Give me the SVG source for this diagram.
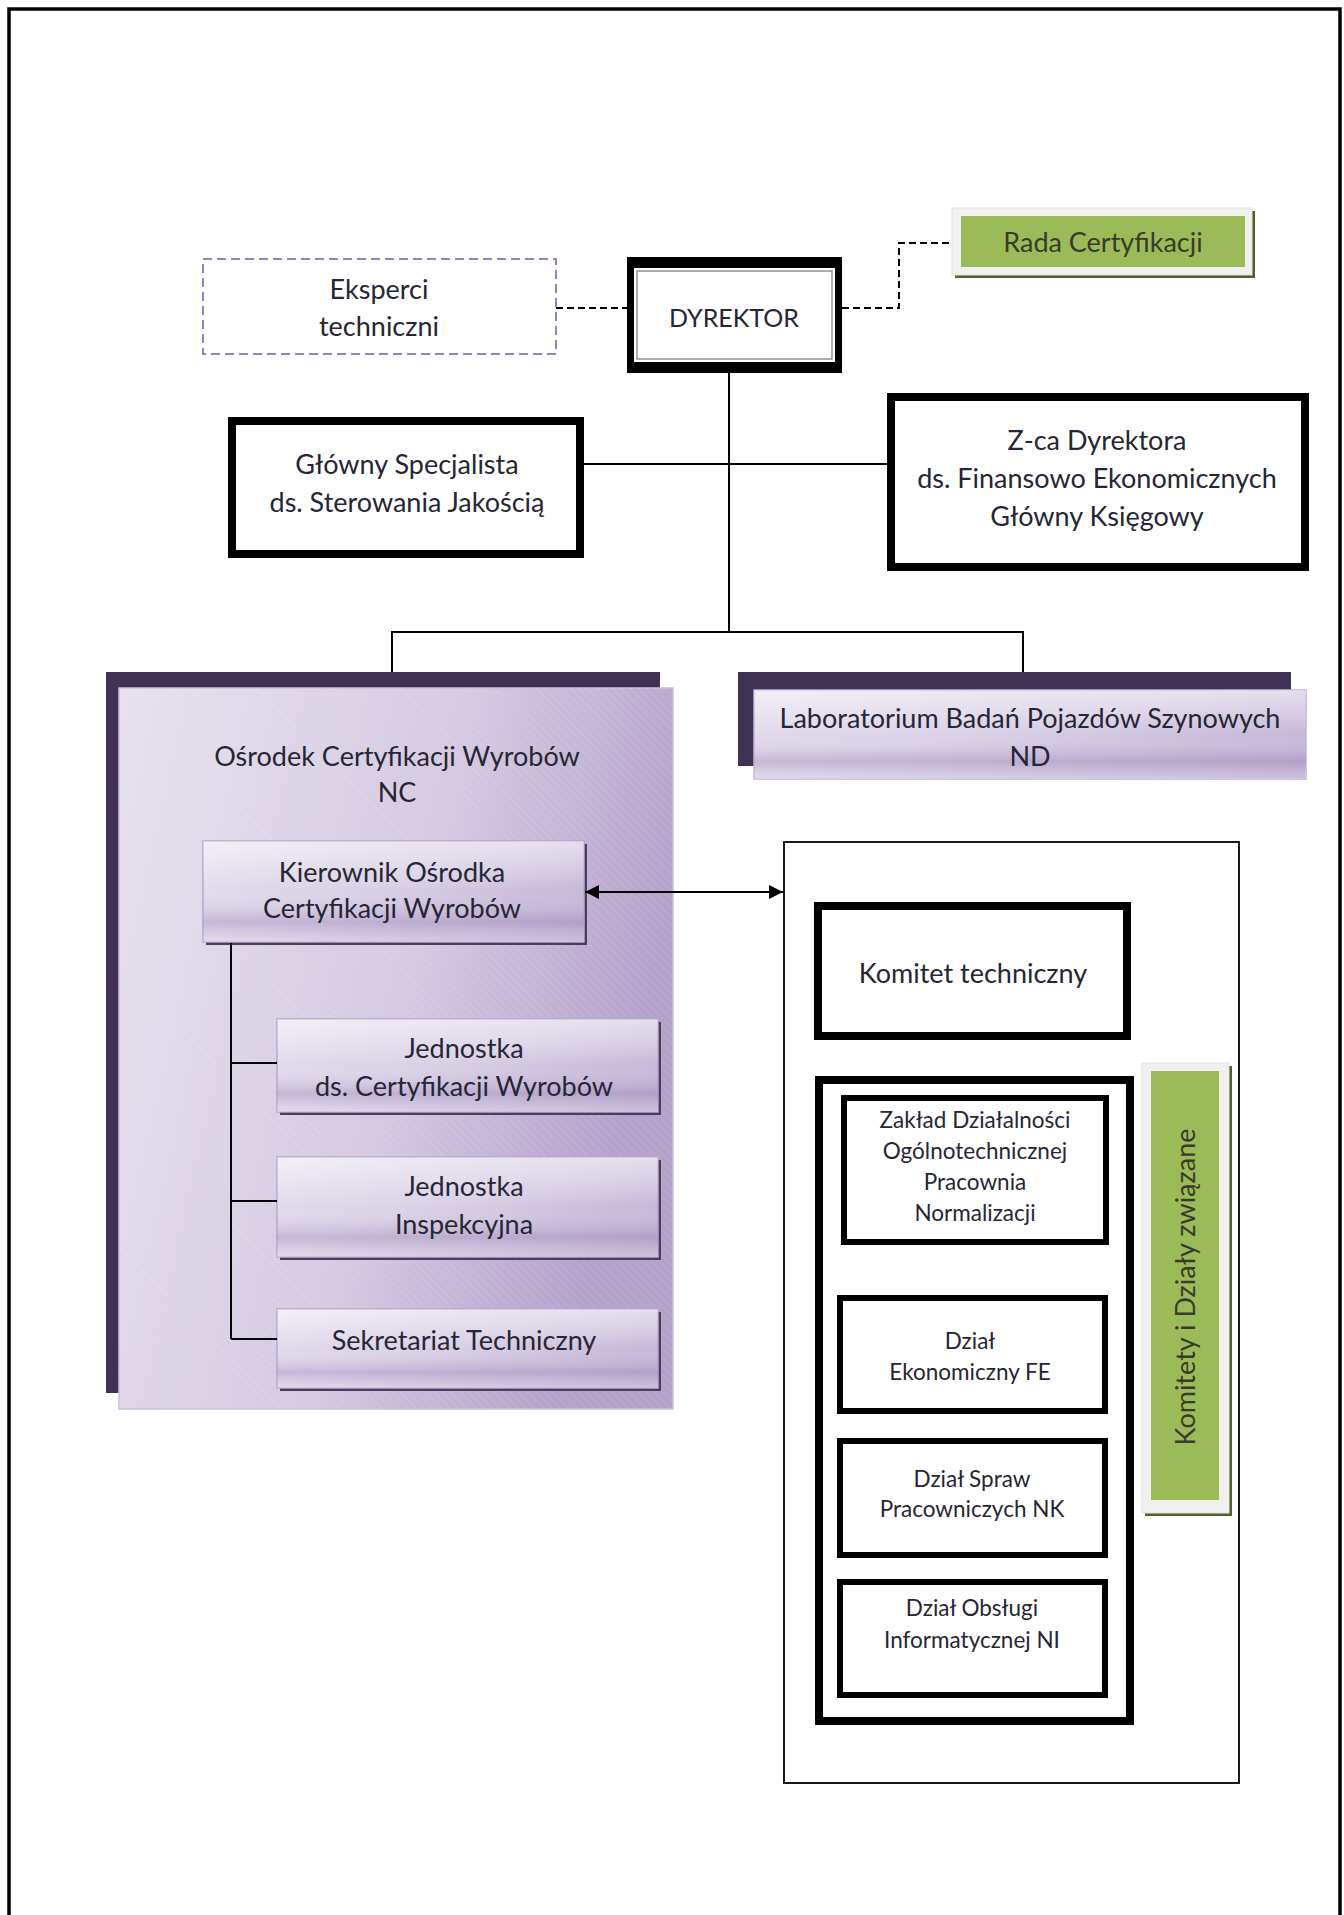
<svg xmlns="http://www.w3.org/2000/svg" width="1344" height="1915" viewBox="0 0 1344 1915">
<style>
text{font-family:"Lato","Noto Sans",sans-serif;fill:#262634;text-anchor:middle}
.t22{font-size:27px}
.tcap{font-size:25px}
.t18{font-size:22.5px}
.thick{fill:#fff;stroke:#000;stroke-width:8}
.line{fill:none;stroke:#000;stroke-width:2}
.dash{fill:none;stroke:#000;stroke-width:2;stroke-dasharray:7 4}
.sub{stroke:#b6a6cc;stroke-width:1.5}
</style>
<defs>
<linearGradient id="panel" x1="0" y1="0" x2="1" y2="0.3">
<stop offset="0" stop-color="#e7e2ee"/>
<stop offset="0.6" stop-color="#d4c9e1"/>
<stop offset="1" stop-color="#b3a2ca"/>
</linearGradient>
<linearGradient id="box" x1="0" y1="0" x2="1" y2="1">
<stop offset="0" stop-color="#ebe6f1"/>
<stop offset="0.45" stop-color="#d9d0e5"/>
<stop offset="1" stop-color="#b6a5cc"/>
</linearGradient>
<linearGradient id="boxv" x1="0" y1="0" x2="0" y2="1">
<stop offset="0" stop-color="#ffffff" stop-opacity="0.35"/>
<stop offset="0.5" stop-color="#ffffff" stop-opacity="0"/>
<stop offset="0.8" stop-color="#9c88b8" stop-opacity="0.35"/>
<stop offset="1" stop-color="#ffffff" stop-opacity="0.3"/>
</linearGradient>
<pattern id="hatch" width="6" height="6" patternUnits="userSpaceOnUse" patternTransform="rotate(-45)">
<line x1="0" y1="0" x2="0" y2="6" stroke="#ffffff" stroke-opacity="0.1" stroke-width="2"/>
</pattern>
<marker id="arrB" viewBox="0 0 10 10" refX="10" refY="5" markerWidth="16" markerHeight="14" markerUnits="userSpaceOnUse" orient="auto-start-reverse">
<path d="M0,0 L10,5 L0,10 z" fill="#000"/>
</marker>
</defs>

<rect x="0" y="0" width="1344" height="1915" fill="#fff"/>
<path d="M9,1915 V9 H1340 V1915" fill="none" stroke="#000" stroke-width="3.5"/>

<g id="eksperci">
<rect x="203" y="259" width="353" height="95" fill="#fff" stroke="#9a7fbe" stroke-width="2" stroke-dasharray="9 5"/>
<text class="t22" x="379" y="299">Eksperci</text>
<text class="t22" x="379" y="336">techniczni</text>
</g>

<g id="dyrektor">
<rect x="627" y="257" width="215" height="116" fill="#000"/>
<rect x="634" y="268" width="201" height="94" fill="#fff"/>
<rect x="637" y="271" width="195" height="88" fill="none" stroke="#777" stroke-width="1.2"/>
<text class="tcap" x="734" y="327">DYREKTOR</text>
</g>

<g id="rada">
<rect x="955" y="211" width="300" height="67" fill="#4f6228"/>
<rect x="952" y="208" width="300" height="67" fill="#f0f0f0" stroke="#e2e2e2" stroke-width="1"/>
<rect x="961" y="216" width="284" height="51" fill="#9bbb59"/>
<text class="t22" x="1103" y="252" style="fill:#3a3a28">Rada Certyfikacji</text>
</g>

<g id="glowny">
<rect class="thick" x="232" y="421" width="348" height="133"/>
<text class="t22" x="407" y="474">Główny Specjalista</text>
<text class="t22" x="407" y="512">ds. Sterowania Jakością</text>
</g>

<g id="zca">
<rect class="thick" x="891" y="397" width="414" height="170"/>
<text class="t22" x="1097" y="450">Z-ca Dyrektora</text>
<text class="t22" x="1097" y="488">ds. Finansowo Ekonomicznych</text>
<text class="t22" x="1097" y="526">Główny Księgowy</text>
</g>

<g id="osrodek">
<rect x="106" y="672" width="554" height="721" fill="#403254"/>
<rect x="119" y="688" width="554" height="721" fill="url(#panel)" stroke="#cbbfdb" stroke-width="1.5"/>
<rect x="119" y="688" width="554" height="721" fill="url(#hatch)"/>
<text class="t22" x="397" y="766">Ośrodek Certyfikacji Wyrobów</text>
<text class="t22" x="397" y="802">NC</text>
</g>

<g id="laboratorium">
<rect x="738" y="672" width="553" height="94" fill="#403254"/>
<rect x="754" y="690" width="552" height="89" fill="url(#box)" stroke="#c2b4d6" stroke-width="1.5"/>
<rect x="754" y="690" width="552" height="89" fill="url(#boxv)"/>
<text class="t22" x="1030" y="728">Laboratorium Badań Pojazdów Szynowych</text>
<text class="t22" x="1030" y="766">ND</text>
</g>

<g id="kierownik">
<rect x="206" y="844" width="381" height="101" fill="#4a3d5e"/>
<rect x="203" y="841" width="381" height="101" fill="url(#box)" class="sub"/>
<rect x="203" y="841" width="381" height="101" fill="url(#boxv)"/>
<text class="t22" x="392" y="882">Kierownik Ośrodka</text>
<text class="t22" x="392" y="918">Certyfikacji Wyrobów</text>
</g>

<g id="jednostka-cert">
<rect x="280" y="1022" width="381" height="93" fill="#4a3d5e"/>
<rect x="277" y="1019" width="381" height="93" fill="url(#box)" class="sub"/>
<rect x="277" y="1019" width="381" height="93" fill="url(#boxv)"/>
<text class="t22" x="464" y="1058">Jednostka</text>
<text class="t22" x="464" y="1096">ds. Certyfikacji Wyrobów</text>
</g>

<g id="jednostka-insp">
<rect x="280" y="1160" width="381" height="100" fill="#4a3d5e"/>
<rect x="277" y="1157" width="381" height="100" fill="url(#box)" class="sub"/>
<rect x="277" y="1157" width="381" height="100" fill="url(#boxv)"/>
<text class="t22" x="464" y="1196">Jednostka</text>
<text class="t22" x="464" y="1234">Inspekcyjna</text>
</g>

<g id="sekretariat">
<rect x="280" y="1312" width="381" height="79" fill="#4a3d5e"/>
<rect x="277" y="1309" width="381" height="79" fill="url(#box)" class="sub"/>
<rect x="277" y="1309" width="381" height="79" fill="url(#boxv)"/>
<text class="t22" x="464" y="1350">Sekretariat Techniczny</text>
</g>

<g id="komitety-container">
<rect x="784" y="842" width="455" height="941" fill="#fff" stroke="#000" stroke-width="1.8"/>
</g>

<g id="komitet">
<rect class="thick" x="818" y="906" width="309" height="130"/>
<text class="t22" x="973" y="983">Komitet techniczny</text>
</g>

<g id="dzialy-group">
<rect class="thick" x="819" y="1080" width="311" height="641"/>
</g>

<g id="zaklad">
<rect x="844" y="1098" width="262" height="144" fill="#fff" stroke="#000" stroke-width="6"/>
<text class="t18" x="975" y="1128">Zakład Działalności</text>
<text class="t18" x="975" y="1159">Ogólnotechnicznej</text>
<text class="t18" x="975" y="1190">Pracownia</text>
<text class="t18" x="975" y="1221">Normalizacji</text>
</g>

<g id="ekonomiczny">
<rect x="840" y="1298" width="265" height="113" fill="#fff" stroke="#000" stroke-width="6"/>
<text class="t18" x="970" y="1349">Dział</text>
<text class="t18" x="970" y="1380">Ekonomiczny FE</text>
</g>

<g id="pracowniczych">
<rect x="840" y="1441" width="265" height="114" fill="#fff" stroke="#000" stroke-width="6"/>
<text class="t18" x="972" y="1487">Dział Spraw</text>
<text class="t18" x="972" y="1517">Pracowniczych NK</text>
</g>

<g id="informatycznej">
<rect x="840" y="1582" width="265" height="113" fill="#fff" stroke="#000" stroke-width="6"/>
<text class="t18" x="972" y="1616">Dział Obsługi</text>
<text class="t18" x="972" y="1648">Informatycznej NI</text>
</g>

<g id="komitety-label">
<rect x="1145" y="1066" width="87" height="450" fill="#4f6228"/>
<rect x="1142" y="1063" width="87" height="450" fill="#f0f0f0" stroke="#e2e2e2" stroke-width="1"/>
<rect x="1151" y="1071" width="68" height="429" fill="#9bbb59"/>
<text class="t22" x="0" y="0" transform="translate(1195,1287) rotate(-90)" style="fill:#3a3a28">Komitety i Działy związane</text>
</g>

<g id="connectors">
<path class="dash" d="M556,308 H627"/>
<path class="dash" d="M842,308 H899 V243 H952"/>
<path class="line" d="M729,373 V632"/>
<path class="line" d="M584,464 H887"/>
<path class="line" d="M392,672 V632 H1023 V672"/>
<path class="line" d="M231,943 V1339"/>
<path class="line" d="M231,1063 H277"/>
<path class="line" d="M231,1201 H277"/>
<path class="line" d="M231,1339 H277"/>
<path class="line" d="M585,892 H783" marker-start="url(#arrB)" marker-end="url(#arrB)"/>
</g>
</svg>
